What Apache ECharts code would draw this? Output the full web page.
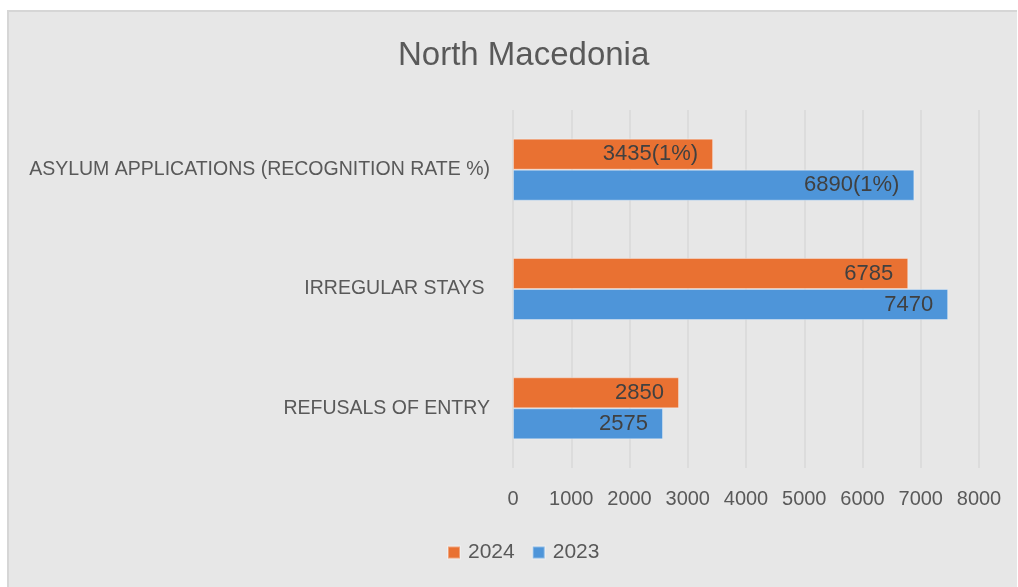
<!DOCTYPE html>
<html>
<head>
<meta charset="utf-8">
<script src="https://cdn.jsdelivr.net/npm/echarts@6/dist/echarts.min.js"></script>
<style>
  html, body { margin: 0; padding: 0; background: #ffffff; }
  #panel { position: absolute; left: 7px; top: 10px; width: 1010px; height: 577px;
           background: #e7e7e7; border-top: 2px solid #d6d6d6; border-left: 2px solid #d6d6d6; box-sizing: border-box; }
  #chart { position: absolute; left: 0; top: 0; width: 1018px; height: 587px; }
</style>
</head>
<body>
<div id="panel"></div>
<div id="chart"></div>
<script>
// Data (bottom-to-top order of categories)
const categories = ['REFUSALS OF ENTRY', 'IRREGULAR STAYS ', 'ASYLUM APPLICATIONS (RECOGNITION RATE %)'];
const values2024 = [2850, 6785, 3435];
const values2023 = [2575, 7470, 6890];
const rates2024 = [null, null, '1%'];
const rates2023 = [null, null, '1%'];
const xTicks = [0, 1000, 2000, 3000, 4000, 5000, 6000, 7000, 8000];

const chart = echarts.init(document.getElementById('chart'), null, { renderer: 'canvas' });
const FONT = '"Liberation Sans", Arial, sans-serif';

function labelWith(rates) {
  return function (p) {
    const r = rates[p.dataIndex];
    return p.value + (r ? '(' + r + ')' : '');
  };
}

chart.setOption({
  backgroundColor: 'transparent',
  animation: false,
  title: {
    text: 'North Macedonia',
    left: 393,
    top: 34,
    textStyle: { fontFamily: FONT, fontSize: 33, fontWeight: 'normal', color: '#595959' }
  },
  legend: {
    data: ['2024', '2023'],
    top: 537,
    left: 442,
    itemWidth: 12,
    itemHeight: 12,
    itemGap: 17,
    icon: 'rect',
    textStyle: { fontFamily: FONT, fontSize: 21, color: '#595959', padding: [0, 0, 0, 3] }
  },
  grid: { left: 513, right: 39, top: 110, bottom: 119, containLabel: false },
  xAxis: {
    type: 'value',
    min: xTicks[0],
    max: xTicks[xTicks.length - 1],
    interval: 1000,
    axisLine: { show: false },
    axisTick: { show: false },
    splitLine: { show: true, lineStyle: { color: '#d9d9d9', width: 1.5 } },
    axisLabel: { fontFamily: FONT, fontSize: 20, color: '#595959', margin: 21,
                 formatter: function (v) { return String(v); } }
  },
  yAxis: {
    type: 'category',
    data: categories,
    axisLine: { show: false },
    axisTick: { show: false },
    axisLabel: { fontFamily: FONT, fontSize: 19.5, color: '#595959', margin: 23 }
  },
  series: [
    {
      name: '2024',
      type: 'bar',
      data: values2024,
      barWidth: 31,
      barGap: '0%',
      itemStyle: { color: '#E97132', borderColor: 'rgba(255,255,255,0.35)', borderWidth: 1 },
      label: { show: true, position: 'insideRight', distance: 15, formatter: labelWith(rates2024),
               fontFamily: FONT, fontSize: 22, color: '#404040' }
    },
    {
      name: '2023',
      type: 'bar',
      data: values2023,
      barWidth: 31,
      barGap: '0%',
      itemStyle: { color: '#4E95D9', borderColor: 'rgba(255,255,255,0.35)', borderWidth: 1 },
      label: { show: true, position: 'insideRight', distance: 15, formatter: labelWith(rates2023),
               fontFamily: FONT, fontSize: 22, color: '#404040' }
    }
  ]
});
</script>
</body>
</html>
